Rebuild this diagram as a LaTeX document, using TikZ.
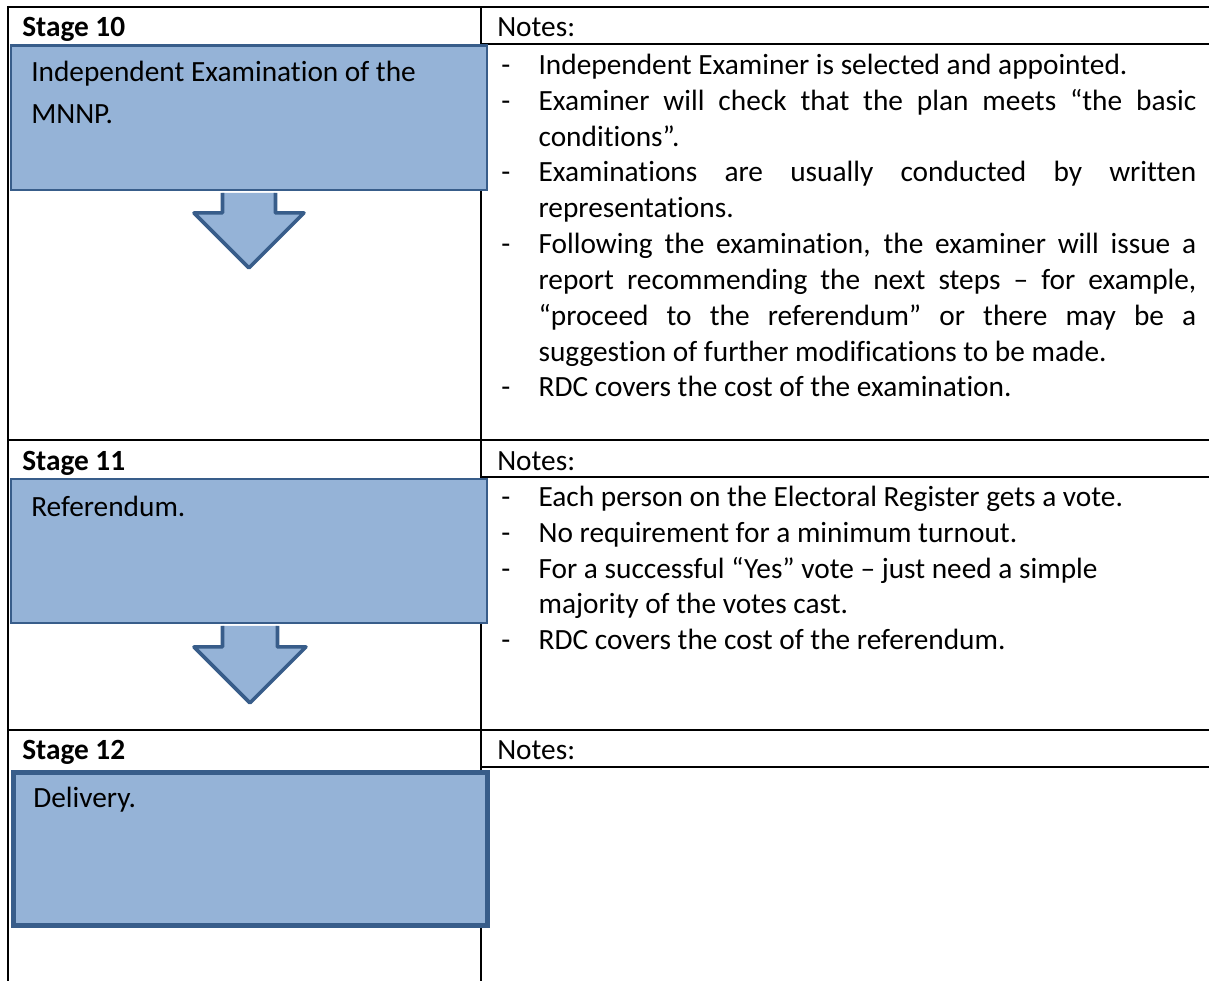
\documentclass[tikz,border=0pt]{standalone}
\usepackage{fontspec}
\setmainfont{Carlito}[Ligatures=NoCommon]
\definecolor{boxfill}{HTML}{95B3D7}
\definecolor{boxline}{HTML}{385D8A}
% one note: a dash, then the text hung under itself
\newcommand{\noteitem}[1]{\noindent\hangindent=31pt\hangafter=1\makebox[31pt][l]{\hspace{3pt}-}#1\par}
\newcommand{\plainspace}{\spaceskip=0pt\xspaceskip=0pt}

\begin{document}
\begin{tikzpicture}[x=0.75pt,y=-0.75pt,every node/.style={inner sep=0pt,font=\fontsize{22pt}{26.86pt}\selectfont},
  rule/.style={line width=1.6pt},
  stagebox/.style={draw=boxline,fill=boxfill,line width=2.2pt,anchor=north west,minimum width=357pt,minimum height=108pt},
  downarrow/.style={draw=boxline,fill=boxfill,line width=2.7pt,line join=round},
  boxtext/.style={anchor=base west,text width=340pt,align=left,font=\fontsize{22pt}{30.9pt}\selectfont},
  stagetitle/.style={anchor=base west,font=\fontsize{22pt}{26.86pt}\selectfont\bfseries},
  notetitle/.style={anchor=base west},
  notes/.style={anchor=base west,text width=524.25pt,align=justify}]
\useasboundingbox (0,0) rectangle (1209,981);
\begin{scope}
\clip (0,0) rectangle (1209,981);
% table grid
\draw[rule] (8,7) -- (1209,7);
\draw[rule] (8,6) -- (8,981);
\draw[rule] (481,7) -- (481,981);
\draw[rule] (481,44) -- (1209,44);
\draw[rule] (8,440) -- (1209,440);
\draw[rule] (481,477) -- (1209,477);
\draw[rule] (8,730) -- (1209,730);
\draw[rule] (481,767) -- (1209,767);
\end{scope}

% stage 10
\node[stagetitle] (st10) at (22,37) {Stage 10};
\node[notetitle] (nt10) at (497,37) {Notes:};
\node[stagebox] (box10) at (9.5,44.5) {};
\node[boxtext] (bt10) at (31,82) {\plainspace Independent Examination of the\\MNNP.};
\draw[downarrow] ([shift={(-26.5,1.5)}]box10.south) -- ++(0,20) -- ++(-28.5,0) -- ++(55,55) -- ++(55,-55) -- ++(-28.5,0) -- ++(0,-20);
\node[notes] (nb10) at (497,74.5) {\tolerance=9999\hyphenpenalty=10000
\noteitem{Independent Examiner is selected and appointed.}
\noteitem{Examiner will check that the plan meets “the basic\linebreak conditions”.}
\noteitem{Examinations are usually conducted by written\linebreak representations.}
\noteitem{Following the examination, the examiner will issue a\linebreak report recommending the next steps – for example,\linebreak “proceed to the referendum” or there may be a\linebreak suggestion of further modifications to be made.}
\noteitem{RDC covers the cost of the examination.}};

% stage 11
\node[stagetitle] (st11) at (22,470) {Stage 11};
\node[notetitle] (nt11) at (497,470) {Notes:};
\node[stagebox] (box11) at (9.5,477.5) {};
\node[boxtext] (bt11) at (31,516) {Referendum.};
\draw[downarrow] ([shift={(-26.5,1.5)}]box11.south) -- ++(0,21) -- ++(-28.5,0) -- ++(56,56) -- ++(56,-56) -- ++(-28.5,0) -- ++(0,-21);
\node[notes,align=left] (nb11) at (497,506.5) {\plainspace\hyphenpenalty=10000
\noteitem{Each person on the Electoral Register gets a vote.}
\noteitem{No requirement for a minimum turnout.}
\noteitem{For a successful “Yes” vote – just need a simple\newline majority of the votes cast.}
\noteitem{RDC covers the cost of the referendum.}};

% stage 12
\node[stagetitle] (st12) at (22,759) {Stage 12};
\node[notetitle] (nt12) at (497,759) {Notes:};
\node[stagebox,line width=3.75pt,minimum width=355.5pt,minimum height=114.75pt] (box12) at (10.5,769.5) {};
\node[boxtext] (bt12) at (33,807) {Delivery.};
\end{tikzpicture}
\end{document}
